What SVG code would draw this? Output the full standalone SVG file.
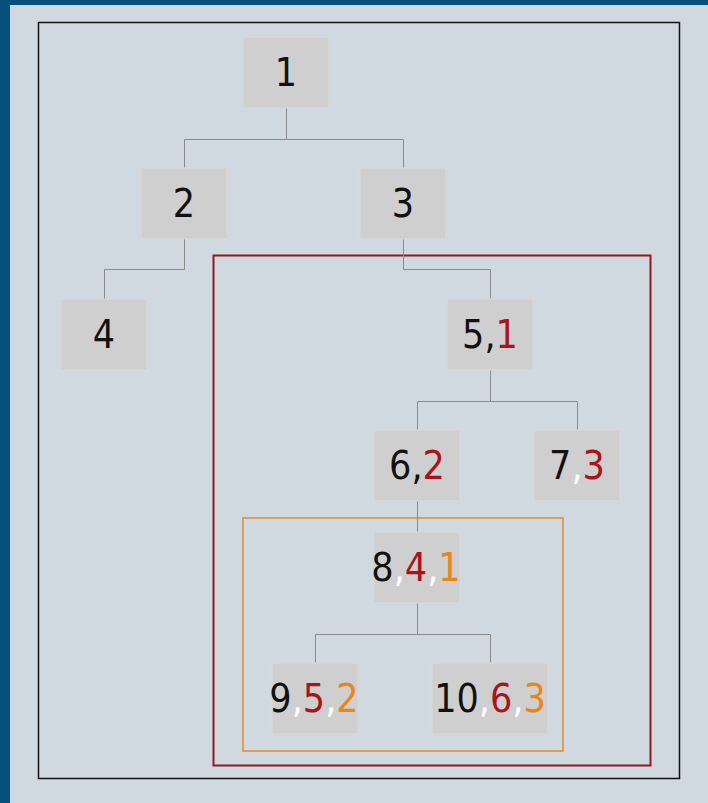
<svg xmlns="http://www.w3.org/2000/svg" width="708" height="803" viewBox="0 0 708 803">
<style>
.node rect{fill:#cfcfcf;stroke:#dadada;stroke-width:1}
.node text{font-family:"DejaVu Sans Condensed","DejaVu Sans",sans-serif;font-stretch:condensed;font-size:39px;text-anchor:middle;fill:#111}
.r{fill:#a8141c}
.o{fill:#e8861e}
.w{fill:#ffffff}
#connectors path{fill:none;stroke:#8a8a8a;stroke-width:1}
</style>
<rect x="0" y="0" width="708" height="803" fill="#06507b"/>
<rect x="10" y="5" width="698" height="798" fill="#d0d9df"/>
<rect x="38.5" y="22.5" width="641" height="756" fill="none" stroke="#111" stroke-width="1.5"/>
<rect x="213.5" y="255.5" width="437" height="510" fill="none" stroke="#8e1a1e" stroke-width="2"/>
<rect x="243" y="518" width="320" height="233" fill="none" stroke="#e08a2e" stroke-width="1.5"/>
<g id="connectors">
<path d="M286.5 108V139.5H184.5V168M286.5 139.5H403.5V168"/>
<path d="M184.5 239V269.5H104.5V299"/>
<path d="M403.5 239V269.5H490.5V299"/>
<path d="M490.5 370V401.5H417.5V430M490.5 401.5H577.5V430"/>
<path d="M417.5 501V532"/>
<path d="M417.5 603V634.5H315.5V663M417.5 634.5H490.5V663"/>
</g>
<g id="n1" class="node"><rect x="243" y="37" width="86" height="71"/><text x="286" y="86">1</text></g>
<g id="n2" class="node"><rect x="141" y="168" width="86" height="71"/><text x="184" y="217">2</text></g>
<g id="n3" class="node"><rect x="360" y="168" width="86" height="71"/><text x="403" y="217">3</text></g>
<g id="n4" class="node"><rect x="61" y="299" width="86" height="71"/><text x="104" y="348">4</text></g>
<g id="n5" class="node"><rect x="447" y="299" width="86" height="71"/><text x="490" y="348">5,<tspan class="r">1</tspan></text></g>
<g id="n6" class="node"><rect x="374" y="430" width="86" height="71"/><text x="417" y="479">6,<tspan class="r">2</tspan></text></g>
<g id="n7" class="node"><rect x="534" y="430" width="86" height="71"/><text x="577" y="479">7<tspan class="w">,</tspan><tspan class="r">3</tspan></text></g>
<g id="n8" class="node"><rect x="374" y="532" width="86" height="71"/><text x="416" y="581">8<tspan class="w">,</tspan><tspan class="r">4</tspan><tspan class="w">,</tspan><tspan class="o">1</tspan></text></g>
<g id="n9" class="node"><rect x="272" y="663" width="86" height="71"/><text x="314" y="712">9<tspan class="w">,</tspan><tspan class="r">5</tspan><tspan class="w">,</tspan><tspan class="o">2</tspan></text></g>
<g id="n10" class="node"><rect x="432" y="663" width="116" height="71"/><text x="490" y="712">10<tspan class="w">,</tspan><tspan class="r">6</tspan><tspan class="w">,</tspan><tspan class="o">3</tspan></text></g>
</svg>
